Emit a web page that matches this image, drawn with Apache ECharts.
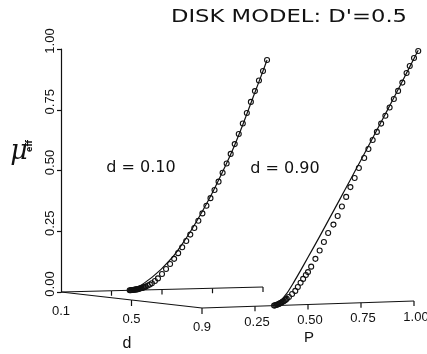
<!DOCTYPE html>
<html>
<head>
<meta charset="utf-8">
<script src="https://cdn.jsdelivr.net/npm/echarts@6/dist/echarts.min.js"></script>
<style>
  html, body { margin: 0; padding: 0; background: #ffffff; }
  #chart { width: 427px; height: 354px; }
</style>
</head>
<body>
<div id="chart"></div>
<script>
// Effective mobility of the disk model (D' = 0.5) versus P,
// shown on two walls of a box: d = 0.10 (back wall) and d = 0.90 (front wall).

// d = 0.10 : computed points (circles)
const backCircleP  = [1.02, 1.00, 0.98, 0.96, 0.94, 0.92, 0.90, 0.88, 0.86, 0.84, 0.82, 0.80, 0.78, 0.76,
                      0.74, 0.72, 0.70, 0.68, 0.66, 0.64, 0.62, 0.60, 0.58, 0.56, 0.54, 0.52, 0.50, 0.48,
                      0.465, 0.45, 0.44, 0.43, 0.42, 0.415, 0.41, 0.405, 0.40, 0.395, 0.39, 0.385, 0.38,
                      0.375, 0.37, 0.365, 0.36, 0.355, 0.35, 0.345, 0.34];
const backCircleMu = [0.934, 0.889, 0.850, 0.807, 0.763, 0.718, 0.675, 0.632, 0.591, 0.551, 0.512, 0.474, 0.438, 0.404,
                      0.371, 0.340, 0.309, 0.279, 0.250, 0.223, 0.197, 0.172, 0.148, 0.125, 0.104, 0.084, 0.064, 0.046,
                      0.036, 0.027, 0.022, 0.018, 0.014, 0.012, 0.011, 0.009, 0.008, 0.007, 0.006, 0.005, 0.004,
                      0.003, 0.003, 0.002, 0.002, 0.001, 0.001, 0.000, 0.000];
// d = 0.10 : model curve (solid line)
const backLineP  = [0.335, 0.36, 0.38, 0.40, 0.42, 0.44, 0.46, 0.48, 0.50, 0.55, 0.60, 0.65, 0.70, 0.75, 0.80, 0.85, 0.90, 0.95, 1.00, 1.02];
const backLineMu = [0.000, 0.006, 0.013, 0.022, 0.033, 0.045, 0.058, 0.072, 0.087, 0.130, 0.185, 0.248, 0.318, 0.394, 0.478, 0.568, 0.670, 0.780, 0.889, 0.934];

// d = 0.90 : computed points (circles)
const frontCircleP  = [1.02, 1.00, 0.98, 0.965, 0.945, 0.925, 0.905, 0.885, 0.865, 0.845, 0.825, 0.805, 0.785, 0.765,
                       0.74, 0.72, 0.70, 0.68, 0.66, 0.64, 0.62, 0.595, 0.575, 0.555, 0.535, 0.515, 0.50, 0.49,
                       0.477, 0.465, 0.452, 0.44, 0.425, 0.41, 0.40, 0.395, 0.39, 0.385, 0.38, 0.375, 0.37,
                       0.365, 0.36, 0.355, 0.35, 0.345, 0.34];
const frontCircleMu = [0.980, 0.953, 0.922, 0.895, 0.858, 0.826, 0.795, 0.762, 0.730, 0.700, 0.668, 0.637, 0.602, 0.567,
                       0.529, 0.490, 0.455, 0.417, 0.380, 0.343, 0.310, 0.278, 0.243, 0.210, 0.178, 0.148, 0.127, 0.116,
                       0.101, 0.086, 0.070, 0.055, 0.043, 0.032, 0.025, 0.022, 0.019, 0.016, 0.014, 0.011, 0.009,
                       0.007, 0.005, 0.004, 0.002, 0.001, 0.000];
// d = 0.90 : model curve (solid line)
const frontLineP  = [0.335, 0.37, 0.40, 0.43, 0.46, 0.50, 0.55, 0.60, 0.65, 0.70, 0.75, 0.80, 0.85, 0.90, 0.95, 1.00, 1.02];
const frontLineMu = [0.000, 0.018, 0.046, 0.085, 0.127, 0.185, 0.258, 0.333, 0.408, 0.484, 0.560, 0.637, 0.714, 0.792, 0.871, 0.951, 0.983];

// Axis ticks
const pTicks      = [0, 0.25, 0.50, 0.75, 1.00];
const pTickLabels = ['', '0.25', '0.50', '0.75', '1.00'];
const dTicks      = [0.1, 0.5, 0.9];
const dTickLabels = ['0.1', '0.5', '0.9'];

// Floor lines of the box rise slightly to the right (pixels per unit of P)
const TILT_BACK = 5;
const TILT_FRONT = 7;
const INK = '#111';
const TICK_FONT = 'Liberation Sans';

const zip = (a, b) => a.map((v, i) => [v, b[i]]);

function project(api, p, mu, tilt) {
  const c = api.coord([p, mu]);
  return [c[0], c[1] - tilt * p];
}

function curveRenderer(tilt) {
  return function (params, api) {
    if (params.dataIndexInside !== 0) return null;
    const pts = [];
    for (let j = 0; j < params.dataInsideLength; j++) {
      pts.push(project(api, api.value(0, j), api.value(1, j), tilt));
    }
    return { type: 'polyline', shape: { points: pts, smooth: 0.2 },
             style: { stroke: INK, lineWidth: 1.2, fill: null } };
  };
}

function circleRenderer(tilt) {
  return function (params, api) {
    const c = project(api, api.value(0), api.value(1), tilt);
    return { type: 'circle', shape: { cx: c[0], cy: c[1], r: 2.5 },
             style: { stroke: INK, lineWidth: 1.1, fill: 'rgba(255,255,255,0)' } };
  };
}

function pAxisRenderer(tilt, labels) {
  return function (params, api) {
    const i = params.dataIndexInside;
    const p = api.value(0);
    const c = project(api, p, 0, tilt);
    const children = [];
    if (i > 0) {
      const q = api.value(0, i - 1);
      const c0 = project(api, q, 0, tilt);
      children.push({ type: 'line', shape: { x1: c0[0], y1: c0[1], x2: c[0], y2: c[1] },
                      style: { stroke: INK, lineWidth: 1.2 } });
    }
    if (p > 0) {
      children.push({ type: 'line', shape: { x1: c[0], y1: c[1], x2: c[0], y2: c[1] + 5 },
                      style: { stroke: INK, lineWidth: 1.2 } });
    }
    if (labels && labels[i]) {
      children.push({ type: 'text', x: c[0] + 2, y: c[1] + 16,
                      style: { text: labels[i], fill: INK, fontSize: 13, fontFamily: TICK_FONT,
                               align: 'center', verticalAlign: 'middle' } });
    }
    return { type: 'group', children };
  };
}

function dAxisRenderer(params, api) {
  const i = params.dataIndexInside;
  const d = api.value(0);
  const c = api.coord([d, d]);
  const children = [];
  if (i > 0) {
    const q = api.value(0, i - 1);
    const c0 = api.coord([q, q]);
    children.push({ type: 'line', shape: { x1: c0[0], y1: c0[1], x2: c[0], y2: c[1] },
                    style: { stroke: INK, lineWidth: 1.2 } });
    children.push({ type: 'line', shape: { x1: c[0], y1: c[1], x2: c[0], y2: c[1] + 6 },
                    style: { stroke: INK, lineWidth: 1.2 } });
  }
  children.push({ type: 'text', x: c[0], y: c[1] + 19,
                  style: { text: dTickLabels[i], fill: INK, fontSize: 13, fontFamily: TICK_FONT,
                           align: 'center', verticalAlign: 'middle' } });
  return { type: 'group', children };
}

const chart = echarts.init(document.getElementById('chart'), null, { renderer: 'canvas' });

chart.setOption({
  backgroundColor: '#ffffff',
  animation: false,
  grid: [
    { left: 61, top: 49, width: 202, height: 243 },   // back wall, d = 0.10
    { left: 202, top: 53, width: 212, height: 255 },  // front wall, d = 0.90
    { left: 61, top: 292, width: 141, height: 16 }    // depth axis d
  ],
  xAxis: [
    { gridIndex: 0, type: 'value', min: 0, max: 1, show: false },
    { gridIndex: 1, type: 'value', min: 0, max: 1, show: false },
    { gridIndex: 2, type: 'value', min: 0.1, max: 0.9, show: false }
  ],
  yAxis: [
    {
      gridIndex: 0, type: 'value', min: 0, max: 1, interval: 0.25,
      axisLine: { show: true, lineStyle: { color: INK, width: 1.2 } },
      axisTick: { show: true, length: 4, lineStyle: { color: INK, width: 1.2 } },
      splitLine: { show: false },
      axisLabel: {
        rotate: 90, margin: 4, color: INK, fontSize: 13, fontFamily: TICK_FONT,
        padding: [0, 0, 0, 16],
        formatter: v => v.toFixed(2)
      }
    },
    { gridIndex: 1, type: 'value', min: 0, max: 1, show: false },
    { gridIndex: 2, type: 'value', min: 0.1, max: 0.9, inverse: true, show: false }
  ],
  series: [
    { type: 'custom', name: 'back floor', xAxisIndex: 0, yAxisIndex: 0, silent: true,
      data: pTicks.map(p => [p, 0]), renderItem: pAxisRenderer(TILT_BACK, null) },
    { type: 'custom', name: 'front floor', xAxisIndex: 1, yAxisIndex: 1, silent: true,
      data: pTicks.map(p => [p, 0]), renderItem: pAxisRenderer(TILT_FRONT, pTickLabels) },
    { type: 'custom', name: 'd axis', xAxisIndex: 2, yAxisIndex: 2, silent: true,
      data: dTicks.map(d => [d, d]), renderItem: dAxisRenderer },

    { type: 'custom', name: 'd = 0.10 model', xAxisIndex: 0, yAxisIndex: 0,
      data: zip(backLineP, backLineMu), renderItem: curveRenderer(TILT_BACK) },
    { type: 'custom', name: 'd = 0.10 points', xAxisIndex: 0, yAxisIndex: 0,
      data: zip(backCircleP, backCircleMu), renderItem: circleRenderer(TILT_BACK) },
    { type: 'custom', name: 'd = 0.90 model', xAxisIndex: 1, yAxisIndex: 1,
      data: zip(frontLineP, frontLineMu), renderItem: curveRenderer(TILT_FRONT) },
    { type: 'custom', name: 'd = 0.90 points', xAxisIndex: 1, yAxisIndex: 1,
      data: zip(frontCircleP, frontCircleMu), renderItem: circleRenderer(TILT_FRONT) }
  ],
  graphic: [
    { type: 'text', x: 289, y: 17, scaleX: 1.26,
      style: { text: "DISK MODEL: D'=0.5", fill: INK, fontSize: 18, fontFamily: 'DejaVu Sans',
               align: 'center', verticalAlign: 'middle' } },
    { type: 'text', x: 141, y: 168,
      style: { text: 'd = 0.10', fill: INK, fontSize: 16, fontFamily: 'DejaVu Sans',
               align: 'center', verticalAlign: 'middle' } },
    { type: 'text', x: 285, y: 169,
      style: { text: 'd = 0.90', fill: INK, fontSize: 16, fontFamily: 'DejaVu Sans',
               align: 'center', verticalAlign: 'middle' } },
    { type: 'text', x: 19, y: 152,
      style: { text: 'μ', fill: INK, fontSize: 27, fontStyle: 'italic', fontFamily: 'DejaVu Serif',
               align: 'center', verticalAlign: 'middle' } },
    { type: 'text', x: 30, y: 146, rotation: Math.PI / 2,
      style: { text: 'eff', fill: INK, fontSize: 8, fontWeight: 'bold', fontFamily: 'DejaVu Sans',
               align: 'center', verticalAlign: 'middle' } },
    { type: 'text', x: 127, y: 344,
      style: { text: 'd', fill: INK, fontSize: 16, fontFamily: 'Liberation Sans',
               align: 'center', verticalAlign: 'middle' } },
    { type: 'text', x: 309, y: 338,
      style: { text: 'P', fill: INK, fontSize: 15, fontFamily: 'Liberation Sans',
               align: 'center', verticalAlign: 'middle' } }
  ]
});
</script>
</body>
</html>
